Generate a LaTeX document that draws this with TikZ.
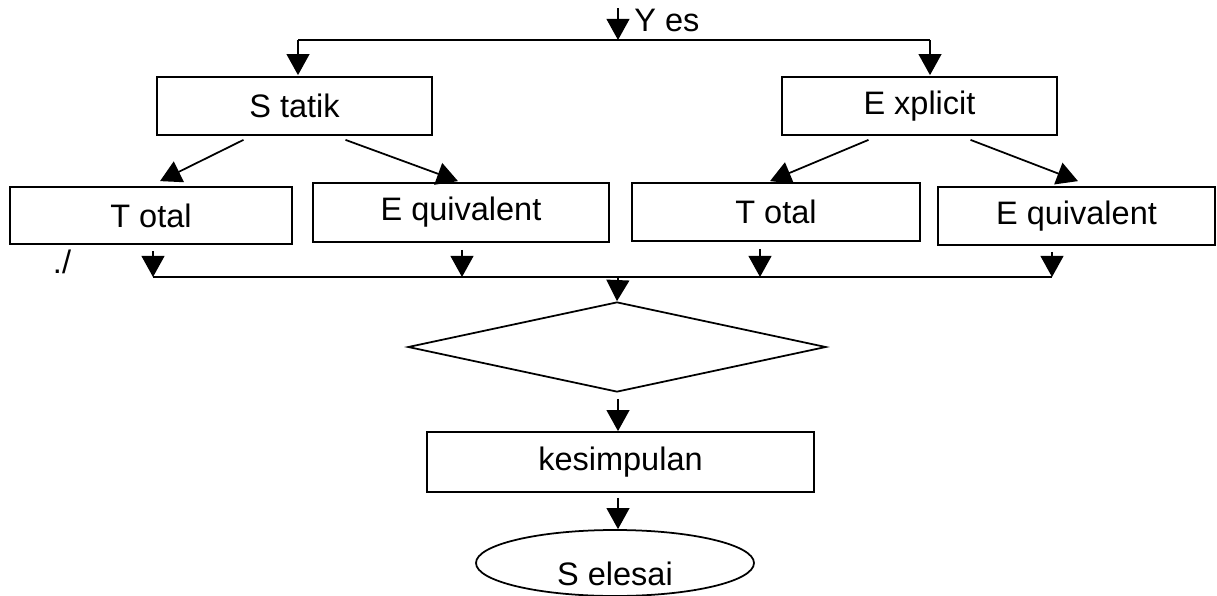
\documentclass[tikz,border=0pt]{standalone}
\usepackage{fontspec}
\setmainfont{Liberation Sans}
\usetikzlibrary{arrows.meta,shapes.geometric,calc}
\begin{document}
\begin{tikzpicture}[x=0.02cm,y=-0.02cm,
  line width=1pt,
  every node/.style={font=\fontsize{18.5}{22}\selectfont},
  box/.style={draw,rectangle,inner sep=0pt},
  arr/.style={-{Triangle[width=13pt,length=12pt]}}]
\useasboundingbox (0,0) rectangle (1217,595);
\clip (0,0) rectangle (1217,595);
% nodes
\node[box,minimum width=275*0.02cm,minimum height=58*0.02cm] (statik) at (294.5,106) {S tatik};
\node[box,minimum width=275*0.02cm,minimum height=58*0.02cm] (explicit) at (919.5,106) {E xplicit};
\node[box,minimum width=282*0.02cm,minimum height=57*0.02cm] (total1) at (151,215.5) {T otal};
\node[box,minimum width=296*0.02cm,minimum height=59*0.02cm] (equiv1) at (461,212.5) {E quivalent};
\node[box,minimum width=288*0.02cm,minimum height=58*0.02cm] (total2) at (776,212) {T otal};
\node[box,minimum width=277*0.02cm,minimum height=58*0.02cm] (equiv2) at (1076.5,216) {E quivalent};
\node[draw,diamond,inner sep=0pt,minimum width=418*0.02cm,minimum height=90*0.02cm] (dec) at (617,347) {};
\node[box,minimum width=387*0.02cm,minimum height=60*0.02cm] (kes) at (620.5,462) {kesimpulan};
\node[draw,ellipse,inner sep=0pt,minimum width=278*0.02cm,minimum height=66*0.02cm] (sel) at (615,563) {};
\node (seltext) at (615,574) {S elesai};
\node (yes) at (667,20) {Y es};
\node (dots) at (62,262) {./};
% coordinates
\coordinate (start) at (618,8);
\coordinate (topbus) at (618,40);
\coordinate (topL) at (298,40);
\coordinate (topR) at (930,40);
\coordinate (busL) at (153,277);
\coordinate (busB) at (462,277);
\coordinate (busM) at (618,277);
\coordinate (busC) at (760,277);
\coordinate (busR) at (1052,277);
% top
\draw[arr] (start) -- (topbus);
\draw (topL) -- (topR);
\draw[arr] (topL) -- ($(statik.north)+(3.5,-1)$);
\draw[arr] (topR) -- ($(explicit.north)+(10.5,-1)$);
% branches
\draw[arr] ($(statik.south)+(-51,4)$) -- ($(total1.north)+(9,-5)$);
\draw[arr] ($(statik.south)+(51,4)$) -- ($(equiv1.north)+(-3,-1)$);
\draw[arr] ($(explicit.south)+(-51,4)$) -- ($(total2.north)+(-6,-1)$);
\draw[arr] ($(explicit.south)+(51,4)$) -- ($(equiv2.north)+(1.5,-5)$);
% to bus
\draw[arr] ($(total1.south)+(2,6)$) -- (busL);
\draw[arr] ($(equiv1.south)+(1,7)$) -- (busB);
\draw[arr] ($(total2.south)+(-16,7)$) -- (busC);
\draw[arr] ($(equiv2.south)+(-24.5,6)$) -- (busR);
\draw (busL) -- (busR);
% center column
\draw[arr] (busM) -- (dec.north);
\draw[arr] ($(dec.south)+(1,6)$) -- ($(kes.north)+(-2.5,0)$);
\draw[arr] ($(kes.south)+(-2.5,5)$) -- ($(sel.north)+(3,0)$);
\end{tikzpicture}
\end{document}
